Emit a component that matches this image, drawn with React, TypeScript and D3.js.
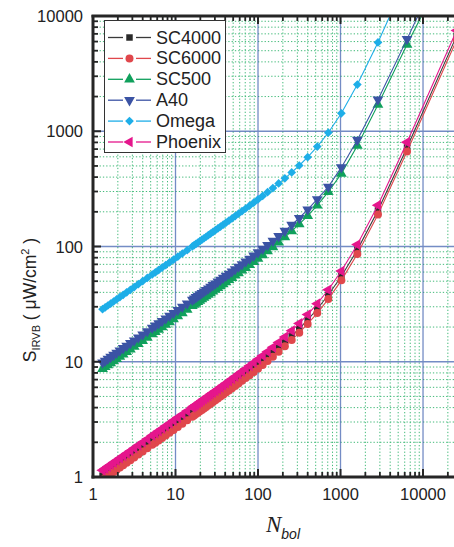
import React from 'react';
import * as d3 from 'd3';

// Number of bolometer channels (x values of the points)
const N_BOL = [25600, 6400, 2844, 1600, 1024, 711.1, 522.4, 400, 316.0, 256, 211.6, 177.8, 151.5, 130.6, 113.8, 100, 88.58, 79.01, 70.91, 64, 52.89, 44.44, 37.87, 32.65, 28.44, 25, 22.15, 19.75, 17.73, 16, 13.85, 12.10, 10.66, 9.467, 8.463, 7.610, 6.880, 6.25, 5.703, 5.224, 4.551, 4, 3.543, 3.160, 2.837, 2.56, 2.322, 2.116, 1.936, 1.778, 1.638, 1.515, 1.405, 1.306];
// additional points in the dense mid range
const N_BOL_MID = [58.05, 48.39, 40.96, 35.12, 30.44, 26.64, 23.51, 20.90, 18.70, 16.83];

const SC4000 = [6750, 722.6, 205.5, 93.51, 55.13, 37.92, 28.68, 23.09, 19.37, 16.73, 14.76, 13.23, 12.01, 11.01, 10.16, 9.45, 8.834, 8.298, 7.826, 7.406, 6.693, 6.109, 5.621, 5.206, 4.850, 4.540, 4.268, 4.026, 3.812, 3.618, 3.363, 3.142, 2.948, 2.777, 2.624, 2.489, 2.365, 2.254, 2.152, 2.060, 1.922, 1.802, 1.696, 1.601, 1.517, 1.441, 1.373, 1.310, 1.252, 1.200, 1.152, 1.108, 1.067, 1.029];
const SC4000_MID = [7.032, 6.388, 5.855, 5.405, 5.021, 4.690, 4.398, 4.143, 3.915, 3.713];
const SC6000 = [6225, 666.4, 189.5, 86.24, 50.85, 34.97, 26.45, 21.29, 17.86, 15.43, 13.61, 12.20, 11.07, 10.15, 9.371, 8.715, 8.147, 7.653, 7.217, 6.830, 6.173, 5.634, 5.183, 4.801, 4.473, 4.187, 3.936, 3.713, 3.515, 3.337, 3.102, 2.898, 2.718, 2.561, 2.420, 2.295, 2.181, 2.078, 1.985, 1.900, 1.772, 1.662, 1.564, 1.477, 1.399, 1.329, 1.266, 1.208, 1.155, 1.107, 1.062, 1.022, 0.984, 0.949];
const SC6000_MID = [6.485, 5.891, 5.399, 4.985, 4.631, 4.325, 4.056, 3.820, 3.611, 3.424];
const SC500 = [40000, 5650, 1700, 750, 429.0, 297.3, 227.2, 184.6, 156.3, 135.9, 120.6, 108.6, 98.95, 90.97, 84.28, 78.51, 73.54, 69.18, 65.33, 61.90, 56.05, 51.23, 47.19, 43.75, 40.78, 38.20, 35.92, 33.90, 32.10, 30.48, 28.28, 26.43, 24.81, 23.39, 22.11, 20.97, 19.93, 19.0, 18.15, 17.37, 16.21, 15.2, 14.30, 13.51, 12.80, 12.16, 11.58, 11.06, 10.57, 10.13, 9.728, 9.356, 9.006, 8.687];
const SC500_MID = [58.83, 53.53, 49.13, 45.40, 42.21, 39.44, 37.02, 34.88, 32.98, 31.27];
const A40 = [52000, 6300, 1880, 840, 485.5, 330, 257.1, 208.9, 176.8, 153.8, 136.5, 122.9, 112.0, 102.9, 95.37, 88.84, 83.21, 78.28, 73.93, 70.05, 63.43, 57.97, 53.40, 49.50, 46.15, 43.22, 40.64, 38.36, 36.33, 34.49, 32.00, 29.91, 28.08, 26.46, 25.02, 23.73, 22.56, 21.5, 20.54, 19.66, 18.34, 17.2, 16.19, 15.29, 14.48, 13.76, 13.11, 12.51, 11.96, 11.46, 11.01, 10.59, 10.19, 9.83];
const A40_MID = [66.57, 60.58, 55.59, 51.38, 47.76, 44.63, 41.89, 39.47, 37.32, 35.39];
const OMEGA = [200000, 21500, 5900, 2540, 1431, 970.8, 735.6, 596.2, 504.5, 439.4, 390.5, 352.3, 321.5, 296.0, 274.5, 256.0, 240.0, 226.0, 213.6, 202.5, 183.5, 167.9, 154.7, 143.5, 133.8, 125.4, 117.9, 111.3, 105.5, 100.15, 93.0, 86.96, 81.63, 76.92, 72.73, 68.97, 65.57, 62.5, 59.70, 57.14, 53.33, 50, 47.06, 44.44, 42.11, 40, 38.10, 36.36, 34.78, 33.33, 32, 30.77, 29.63, 28.57];
const OMEGA_MID = [192.5, 175.3, 161.0, 148.9, 138.5, 129.5, 121.5, 114.5, 108.3, 102.7];
const PHOENIX = [7500, 802.9, 228.3, 103.9, 61.26, 42.13, 31.87, 25.65, 21.52, 18.59, 16.40, 14.70, 13.34, 12.23, 11.29, 10.50, 9.816, 9.220, 8.695, 8.229, 7.437, 6.788, 6.245, 5.784, 5.389, 5.044, 4.742, 4.473, 4.235, 4.020, 3.737, 3.491, 3.275, 3.085, 2.916, 2.765, 2.628, 2.504, 2.391, 2.289, 2.135, 2.002, 1.884, 1.779, 1.685, 1.601, 1.525, 1.455, 1.391, 1.333, 1.280, 1.231, 1.185, 1.143];
const PHOENIX_MID = [7.813, 7.098, 6.505, 6.006, 5.579, 5.211, 4.887, 4.603, 4.350, 4.125];

const SERIES_NAMES = ['SC4000', 'SC6000', 'SC500', 'A40', 'Omega', 'Phoenix'];
const SERIES_VALUES = [SC4000, SC6000, SC500, A40, OMEGA, PHOENIX];
const SERIES_MID = [SC4000_MID, SC6000_MID, SC500_MID, A40_MID, OMEGA_MID, PHOENIX_MID];

const X_TICKS = [1, 10, 100, 1000, 10000];
const Y_TICKS = [1, 10, 100, 1000, 10000];

const STYLES = [
  { line: '#3a3a3a', fill: '#2a2a2a', sym: d3.symbolSquare, size: 42, rot: 0 },
  { line: '#e0474c', fill: '#e0474c', sym: d3.symbolCircle, size: 50, rot: 0 },
  { line: '#10a05c', fill: '#10a05c', sym: d3.symbolTriangle, size: 50, rot: 0 },
  { line: '#3b53a4', fill: '#3b53a4', sym: d3.symbolTriangle, size: 50, rot: 180 },
  { line: '#1eaee8', fill: '#1eaee8', sym: d3.symbolSquare, size: 38, rot: 45 },
  { line: '#e5168c', fill: '#e5168c', sym: d3.symbolTriangle, size: 50, rot: -90 },
];

const W = 454, H = 547;
const L = 93, T = 16, R = 456.7, B = 477;

export default function App() {
  const x = d3.scaleLog().domain([1, 25600]).range([L, R]);
  const y = d3.scaleLog().domain([1, 10000]).range([B, T]);

  const minorX: number[] = [];
  for (let d = 1; d <= 10000; d *= 10) for (let m = 2; m <= 9; m++) if (d * m <= 25600) minorX.push(d * m);
  const minorY: number[] = [];
  for (let d = 1; d < 10000; d *= 10) for (let m = 2; m <= 9; m++) minorY.push(d * m);

  const line = d3.line<[number, number]>().x(d => x(d[0])).y(d => y(d[1]));
  const font = 'Liberation Sans, Arial, sans-serif';

  return (
    <svg width={W} height={H} style={{ position: 'absolute', left: 0, top: 0, background: '#fff' }} fontFamily={font}>
      <defs>
        <clipPath id="plot"><rect x={L} y={T} width={R - L} height={B - T} /></clipPath>
      </defs>
      {/* minor grid */}
      <g stroke="#2fb46c" strokeWidth={1} strokeDasharray="1.3,2" opacity={0.9}>
        {minorX.map(v => <line key={'mx' + v} x1={x(v)} x2={x(v)} y1={T} y2={B} />)}
        {minorY.map(v => <line key={'my' + v} x1={L} x2={W} y1={y(v)} y2={y(v)} />)}
      </g>
      {/* major grid */}
      <g stroke="#3a5cad" strokeWidth={1.3} opacity={0.7}>
        {X_TICKS.slice(1).map(v => <line key={'gx' + v} x1={x(v)} x2={x(v)} y1={T} y2={B} />)}
        {Y_TICKS.slice(1, 4).map(v => <line key={'gy' + v} x1={L} x2={W} y1={y(v)} y2={y(v)} />)}
      </g>
      {/* series */}
      <g clipPath="url(#plot)">
        {SERIES_VALUES.map((vals, si) => {
          const st = STYLES[si];
          const pts: [number, number][] = N_BOL.map((n, i) => [n, vals[i]] as [number, number])
            .concat(N_BOL_MID.map((n, i) => [n, SERIES_MID[si][i]] as [number, number]))
            .sort((a, b) => b[0] - a[0]);
          const sym = d3.symbol().type(st.sym).size(st.size)() as string;
          return (
            <g key={SERIES_NAMES[si]}>
              <path d={line(pts) as string} fill="none" stroke={st.line} strokeWidth={1.1} />
              {pts.map((p, i) => (
                <path key={i} d={sym} fill={st.fill}
                  transform={`translate(${x(p[0])},${y(p[1])}) rotate(${st.rot})`} />
              ))}
            </g>
          );
        })}
      </g>
      {/* axes */}
      <g stroke="#262626">
        <line x1={L} x2={L} y1={T - 1} y2={B + 1.5} strokeWidth={3} />
        <line x1={L - 1.5} x2={W} y1={B} y2={B} strokeWidth={3} />
        <line x1={L - 1.5} x2={W} y1={T} y2={T} strokeWidth={3} />
        {X_TICKS.map(v => (
          <g key={'tx' + v}>
            <line x1={x(v)} x2={x(v)} y1={B} y2={B - 8} strokeWidth={2} />
            <line x1={x(v)} x2={x(v)} y1={T} y2={T + 8} strokeWidth={2} />
          </g>
        ))}
        {minorX.map(v => (
          <g key={'tmx' + v}>
            <line x1={x(v)} x2={x(v)} y1={B} y2={B - 5} strokeWidth={1.8} />
            <line x1={x(v)} x2={x(v)} y1={T} y2={T + 5} strokeWidth={1.8} />
          </g>
        ))}
        {Y_TICKS.map(v => <line key={'ty' + v} x1={L} x2={L + 8} y1={y(v)} y2={y(v)} strokeWidth={2} />)}
        {minorY.map(v => <line key={'tmy' + v} x1={L} x2={L + 5} y1={y(v)} y2={y(v)} strokeWidth={1.8} />)}
      </g>
      {/* tick labels */}
      <g fontSize={16.5} fill="#222">
        {Y_TICKS.map(v => (
          <text key={'ly' + v} x={83} y={y(v)} textAnchor="end" dominantBaseline="central">{String(v)}</text>
        ))}
        {X_TICKS.map(v => (
          <text key={'lx' + v} x={x(v)} y={494} textAnchor="middle" dominantBaseline="central">{String(v)}</text>
        ))}
      </g>
      {/* axis titles */}
      <text transform="translate(36,300) rotate(-90)" textAnchor="middle" fontSize={17.5} fill="#222">
        S<tspan fontSize={11} dy={4}>IRVB</tspan><tspan dy={-4}> ( μW/cm</tspan><tspan fontSize={11} dy={-7}>2</tspan><tspan dy={7}> )</tspan>
      </text>
      <text x={283} y={532} textAnchor="middle" fill="#222">
        <tspan fontFamily="Liberation Serif, Times New Roman, serif" fontStyle="italic" fontSize={23}>N</tspan>
        <tspan fontStyle="italic" fontSize={14} dy={7}>bol</tspan>
      </text>
      {/* legend */}
      <g>
        <rect x={104.5} y={20.5} width={121} height={132} fill="#fff" stroke="#333" strokeWidth={1} />
        {SERIES_NAMES.map((name, i) => {
          const st = STYLES[i];
          const yy = 37.5 + i * 20.9;
          const sym = d3.symbol().type(st.sym).size(st.size)() as string;
          return (
            <g key={'lg' + name}>
              <line x1={108} x2={123} y1={yy} y2={yy} stroke={st.line} strokeWidth={1.3} />
              <line x1={136} x2={151} y1={yy} y2={yy} stroke={st.line} strokeWidth={1.3} />
              <path d={sym} fill={st.fill} transform={`translate(129.5,${yy}) rotate(${st.rot})`} />
              <text x={156} y={yy} fontSize={18} dominantBaseline="central" fill="#222">{name}</text>
            </g>
          );
        })}
      </g>
    </svg>
  );
}
